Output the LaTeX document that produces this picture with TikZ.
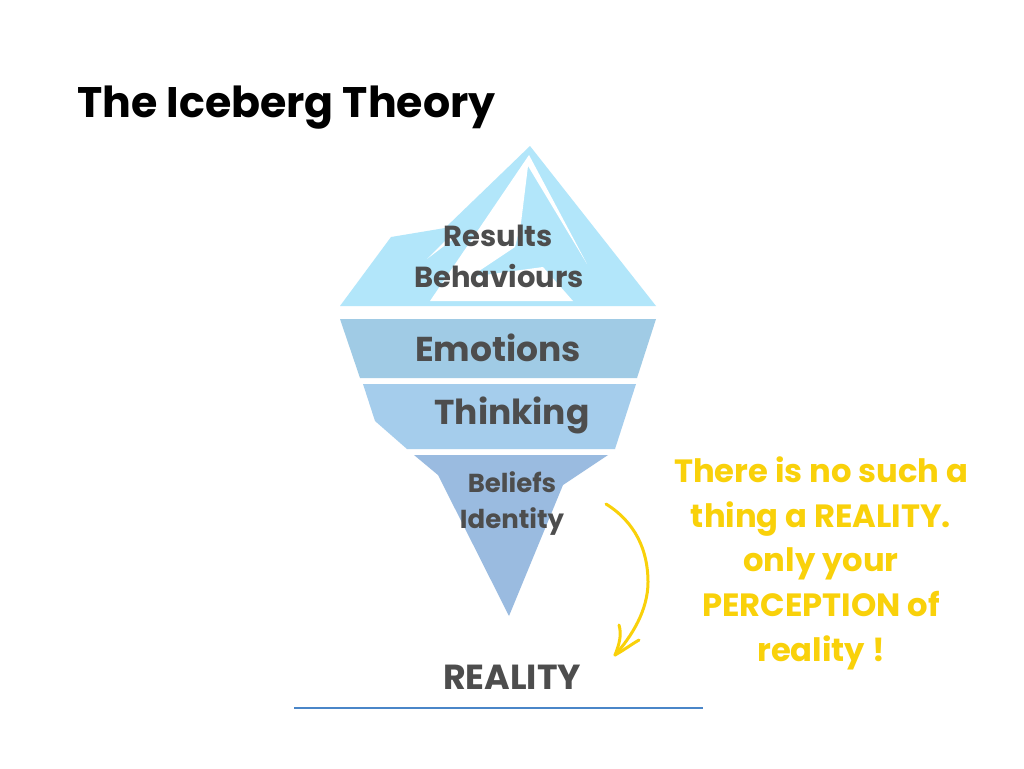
\documentclass[tikz,border=0pt]{standalone}
\usepackage{fontspec}
\setmainfont{Poppins}
\definecolor{ice}{HTML}{B2E6FA}
\definecolor{emo}{HTML}{A0CBE5}
\definecolor{thk}{HTML}{A5CDEC}
\definecolor{blf}{HTML}{9ABBE0}
\definecolor{txt}{HTML}{4D4D4D}
\definecolor{yel}{HTML}{F9D10A}
\definecolor{lin}{HTML}{4A86C8}
\tikzset{
  lbl/.style={text=txt,font=\bfseries\fontsize{#1}{#1}\selectfont,inner sep=0pt,anchor=base},
  note/.style={text=yel,font=\bfseries\fontsize{32.2}{32.2}\selectfont,inner sep=0pt,anchor=base},
}
\begin{document}
\begin{tikzpicture}[x=1pt,y=-1pt]
\useasboundingbox (0,0) rectangle (1024,768);
\fill[white] (0,0) rectangle (1024,768);
\node[anchor=base west,inner sep=0pt,font=\bfseries\fontsize{42.7}{42.7}\selectfont] (title) at (77,117) {The Iceberg Theory};
% top
\fill[ice] (530,146) -- (656,306) -- (340,306) -- (391,237) -- (445,228) -- cycle;
\fill[white] (529,155) -- (430,301) -- (573,301) -- (543,267) -- (470,277) -- (515,247) -- (521,223) -- (528,166) -- (587,264) -- cycle;
\fill[white] (427,259) -- (450,236) -- (452,240) -- cycle;
\fill[emo] (340,319) -- (656,319) -- (637,378) -- (360,378) -- cycle;
\fill[thk] (363,384) -- (636,384) -- (615,449) -- (407,449) -- (375,421) -- cycle;
\fill[blf] (414,455) -- (608,455) -- (563,485) -- (509,616) -- (438,475) -- cycle;
\node[lbl=29] (results) at (498,246) {Results};
\node[lbl=29] (behav) at (499,287) {Behaviours};
\node[lbl=34.5] (emotions) at (498,361) {Emotions};
\node[lbl=34.5] (thinking) at (512,424) {Thinking};
\node[lbl=26] (beliefs) at (512,492) {Beliefs};
\node[lbl=26] (identity) at (512,528) {Identity};
\node[lbl=34.8] (reality) at (512,689) {REALITY};
\coordinate (ls) at (294,708); \coordinate (le) at (703,708);
\draw[lin,line width=1.4pt] (ls) -- (le);
\node[note] (n1) at (821,482) {There is no such a};
\node[note] (n2) at (821,527) {thing a REALITY.};
\node[note] (n3) at (821,571) {only your};
\node[note] (n4) at (821,616) {PERCEPTION of};
\node[note] (n5) at (821,661) {reality !};
\coordinate (as) at (606,504); \coordinate (ae) at (615,655);
\draw[yel,line width=3pt,line cap=round] (as) .. controls (635,522) and (648,550) .. (648,582) .. controls (648,610) and (632,636) .. (ae);
\draw[yel,line width=3pt,line cap=round,line join=round] (619,625) .. controls (622,635) and (619,645) .. (ae) .. controls (624,650) and (632,644) .. (639,640);
\end{tikzpicture}
\end{document}
